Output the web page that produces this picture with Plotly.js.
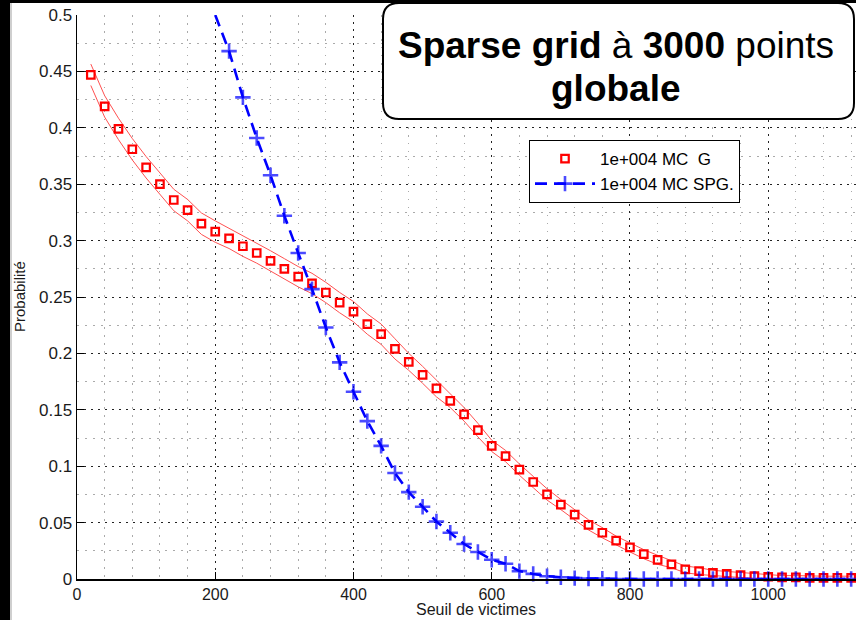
<!DOCTYPE html>
<html>
<head>
<meta charset="utf-8">
<script src="https://cdn.plot.ly/plotly-3.0.1.min.js"></script>
<style>
html,body{margin:0;padding:0;background:#fff;}
#chart{width:856px;height:620px;}
</style>
</head>
<body>
<div id="chart"></div>
<script>
// ---- data ----
const seuilG = [20,40,60,80,100,120,140,160,180,200,220,240,260,280,300,320,340,360,380,400,
  420,440,460,480,500,520,540,560,580,600,620,640,660,680,700,720,740,760,780,800,
  820,840,860,880,900,920,940,960,980,1000,1020,1040,1060,1080,1100,1120];
const probaG = [0.447,0.419,0.399,0.381,0.365,0.350,0.336,0.327,0.315,0.308,0.302,0.295,0.289,0.282,0.275,0.268,0.262,0.254,0.245,0.237,
  0.226,0.217,0.204,0.1925,0.181,0.169,0.158,0.146,0.132,0.118,0.109,0.097,0.086,0.075,0.066,0.057,0.048,0.041,0.034,0.028,
  0.022,0.017,0.013,0.0085,0.007,0.0055,0.0045,0.0035,0.0025,0.002,0.0015,0.0015,0.001,0.001,0.001,0.001];
const probaGUpper = [0.4565,0.4285,0.4085,0.3905,0.3745,0.3595,0.3455,0.3365,0.3245,0.3175,0.311,0.304,0.298,0.291,0.284,0.277,0.271,0.263,0.254,0.246,
  0.235,0.226,0.213,0.200,0.1885,0.1765,0.164,0.152,0.138,0.123,0.114,0.102,0.091,0.080,0.0705,0.0615,0.0525,0.0455,0.038,0.032,
  0.026,0.021,0.016,0.0115,0.010,0.0077,0.0067,0.0057,0.0047,0.0035,0.003,0.003,0.0025,0.0025,0.0025,0.0025];
const probaGLower = [0.4375,0.4095,0.3895,0.3715,0.3555,0.3405,0.3265,0.3175,0.3055,0.2985,0.293,0.286,0.280,0.273,0.266,0.259,0.253,0.245,0.236,0.228,
  0.217,0.208,0.195,0.185,0.1735,0.1615,0.152,0.140,0.126,0.113,0.104,0.092,0.081,0.070,0.0615,0.0525,0.0435,0.0365,0.030,0.024,
  0.018,0.013,0.010,0.0055,0.004,0.0033,0.0023,0.0013,0.0005,0.0005,0,0,0,0,0,0];
const seuilSPG = [200,220,240,260,280,300,320,340,360,380,400,420,440,460,480,500,520,540,560,580,
  600,620,640,660,680,700,720,740,760,780,800,820,840,860,880,900,920,940,960,980,
  1000,1020,1040,1060,1080,1100,1120];
const probaSPG = [0.50,0.468,0.427,0.391,0.358,0.322,0.289,0.257,0.223,0.192,0.166,0.140,0.118,0.094,0.077,0.064,0.051,0.041,0.031,0.024,
  0.017,0.0135,0.007,0.0045,0.0025,0.0015,0.0008,0.0005,0.0003,0,0,0,0,0,0,0,0,0,0,0,
  0,0,0,0,0,0,0];
const legendG = '1e+004 MC  G';
const legendSPG = '1e+004 MC SPG.';
const xTitle = 'Seuil de victimes';
const yTitle = 'Probabilité';
const boxTitle1 = '<b>Sparse grid</b> à <b>3000</b> points';
const boxTitle2 = '<b>globale</b>';

// ---- layout helpers (pixel -> paper) ----
const L = 77, R = 856, T = 15, B = 579;
const px = p => (p - L) / (R - L);
const py = p => (B - p) / (B - T);
const FONT = 'Liberation Sans, Arial, sans-serif';

// first SPG point lies on the top edge (curve continues above the frame): no visible marker there
const spgMarkerSizes = seuilSPG.map((v, i) => i === 0 ? 0 : 11);

const traces = [
  {x: seuilG, y: probaGUpper, mode: 'lines', line: {color: '#ff5050', width: 1}, showlegend: false, hoverinfo: 'skip'},
  {x: seuilG, y: probaGLower, mode: 'lines', line: {color: '#ff5050', width: 1}, showlegend: false, hoverinfo: 'skip'},
  {x: seuilG, y: probaG, mode: 'markers', name: legendG, cliponaxis: false,
   marker: {symbol: 'square-open', size: 7.5, color: '#ff0000', line: {color: '#ff0000', width: 2.2}}},
  {x: seuilSPG, y: probaSPG, mode: 'lines+markers', name: legendSPG, cliponaxis: false,
   line: {color: '#0000ff', width: 2.6, dash: '12px,7px'},
   marker: {symbol: 'cross-thin', size: spgMarkerSizes, color: '#0000ff', line: {color: '#0000ff', width: 2.6}}}
];

const r = 16, bl = 383, br = 854, bt = 3, bb = 119;
const boxPath = `M ${px(bl + r)} ${py(bt)} L ${px(br - r)} ${py(bt)} Q ${px(br)} ${py(bt)} ${px(br)} ${py(bt + r)} ` +
  `L ${px(br)} ${py(bb - r)} Q ${px(br)} ${py(bb)} ${px(br - r)} ${py(bb)} L ${px(bl + r)} ${py(bb)} ` +
  `Q ${px(bl)} ${py(bb)} ${px(bl)} ${py(bb - r)} L ${px(bl)} ${py(bt + r)} Q ${px(bl)} ${py(bt)} ${px(bl + r)} ${py(bt)} Z`;

const layout = {
  width: 856, height: 620,
  margin: {l: L, r: 856 - R, t: T, b: 620 - B, pad: 0},
  paper_bgcolor: '#ffffff', plot_bgcolor: '#ffffff',
  font: {family: FONT, size: 16, color: '#1a1a1a'},
  showlegend: true,
  legend: {x: px(529), y: py(140), xanchor: 'left', yanchor: 'top',
    bgcolor: '#ffffff', bordercolor: '#000000', borderwidth: 1,
    font: {family: FONT, size: 17, color: '#000'}, itemwidth: 60, tracegroupgap: 0},
  xaxis: {range: [0, 1127], dtick: 200, tick0: 0, showline: true, linecolor: '#000', linewidth: 1.5,
    ticks: 'inside', ticklen: 7, tickcolor: '#000', zeroline: false,
    showgrid: true, gridcolor: '#222', gridwidth: 1, griddash: '2px,5px',
    minor: {dtick: 40, showgrid: true, gridcolor: '#aaa', gridwidth: 1, griddash: '1.5px,6.5px', ticks: ''},
    tickfont: {size: 16, color: '#1a1a1a'}, fixedrange: true},
  yaxis: {range: [0, 0.5], dtick: 0.05, tick0: 0, showline: true, linecolor: '#000', linewidth: 1.5,
    ticks: 'inside', ticklen: 7, tickcolor: '#000', zeroline: false,
    showgrid: true, gridcolor: '#222', gridwidth: 1, griddash: '2px,5px',
    minor: {dtick: 0.025, showgrid: true, gridcolor: '#aaa', gridwidth: 1, griddash: '1.5px,6.5px', ticks: ''},
    tickfont: {size: 17, color: '#1a1a1a'}, fixedrange: true},
  shapes: [
    {type: 'path', xref: 'paper', yref: 'paper', path: boxPath, fillcolor: '#ffffff',
     line: {color: '#000', width: 2}, layer: 'above'},
    {type: 'rect', xref: 'paper', yref: 'paper', x0: px(0), x1: px(10), y0: py(620), y1: py(0),
     fillcolor: '#000', line: {width: 0}, layer: 'above'},
    {type: 'rect', xref: 'paper', yref: 'paper', x0: px(10), x1: px(12), y0: py(620), y1: py(3),
     fillcolor: '#cfcfcf', line: {width: 0}, layer: 'above'},
    {type: 'rect', xref: 'paper', yref: 'paper', x0: px(0), x1: px(856), y0: py(3), y1: py(0),
     fillcolor: '#000', line: {width: 0}, layer: 'above'}
  ],
  annotations: [
    {xref: 'paper', yref: 'paper', x: px(616), y: py(45), xanchor: 'center', yanchor: 'middle',
     text: boxTitle1, showarrow: false, font: {family: FONT, size: 37, color: '#000'}},
    {xref: 'paper', yref: 'paper', x: px(616), y: py(88), xanchor: 'center', yanchor: 'middle',
     text: boxTitle2, showarrow: false, font: {family: FONT, size: 37, color: '#000'}},
    {xref: 'paper', yref: 'paper', x: px(476), y: py(609), xanchor: 'center', yanchor: 'middle',
     text: xTitle, showarrow: false, font: {family: FONT, size: 16, color: '#1a1a1a'}},
    {xref: 'paper', yref: 'paper', x: px(19), y: py(297), xanchor: 'center', yanchor: 'middle',
     text: yTitle, textangle: -90, showarrow: false, font: {family: FONT, size: 15, color: '#1a1a1a'}}
  ]
};

Plotly.newPlot('chart', traces, layout, {staticPlot: true, displayModeBar: false});
</script>
</body>
</html>
